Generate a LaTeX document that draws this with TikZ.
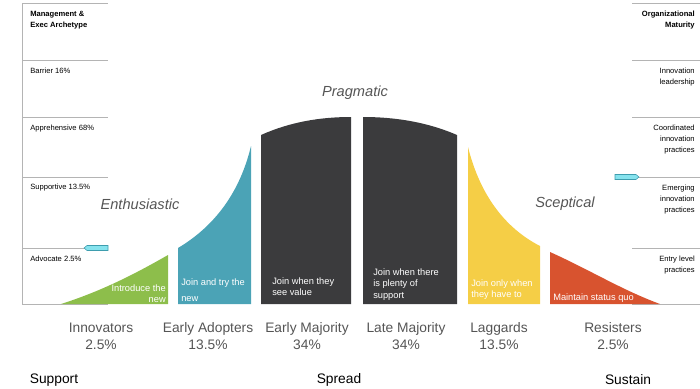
\documentclass[tikz,border=0pt]{standalone}
\usepackage{fontspec}
\setmainfont{Liberation Sans}

\definecolor{innogreen}{HTML}{8DBE4B}
\definecolor{adoptteal}{HTML}{4BA3B6}
\definecolor{majgray}{HTML}{3B3B3D}
\definecolor{laggyellow}{HTML}{F5CE46}
\definecolor{resistred}{HTML}{D8532F}
\definecolor{markcyan}{HTML}{86E3EE}
\definecolor{markedge}{HTML}{3E9DAE}
\definecolor{rulegray}{HTML}{B4B4B4}
\definecolor{labelgray}{HTML}{555555}

\begin{document}
\begin{tikzpicture}[x=0.025cm, y=-0.025cm,
    rule/.style={rulegray, line width=0.6pt},
    side/.style={inner sep=0pt, font=\fontsize{5.4}{7.8}\selectfont},
    inbox/.style={inner sep=0pt, white, align=left, font=\fontsize{6.6}{8.4}\selectfont},
    mood/.style={labelgray, font=\fontsize{10.4}{12}\selectfont\itshape},
    group/.style={labelgray, align=center, font=\fontsize{9.8}{12.2}\selectfont},
    phase/.style={font=\fontsize{9.8}{12}\selectfont},
    marker/.style={fill=markcyan, draw=markedge, line width=0.4pt}]
    \useasboundingbox (0, 0) rectangle (700, 389);

    % side panels
    \draw [rule] (22, 3) -- (22, 304);
    \foreach \y in {3, 60, 117, 177, 248, 304} {
        \draw [rule] (22, \y) -- (108, \y);
        \draw [rule] (632, \y) -- (700, \y);
        }

    \node [side, anchor=north west, align=left, font=\fontsize{5.4}{7.6}\selectfont\bfseries]
        (exec) at (30, 11) {Management \&\\Exec Archetype};
    \node [side, anchor=north west] (barrier)      at (30, 68)  {Barrier 16\%};
    \node [side, anchor=north west] (apprehensive) at (30, 125) {Apprehensive 68\%};
    \node [side, anchor=north west] (supportive)   at (30, 184) {Supportive 13.5\%};
    \node [side, anchor=north west] (advocate)     at (30, 256) {Advocate 2.5\%};

    \node [side, anchor=north east, align=right, font=\fontsize{5.4}{7.6}\selectfont\bfseries]
        (maturity) at (695, 11) {Organizational\\Maturity};
    \node [side, anchor=north east, align=right] (leadership)  at (695, 68)  {Innovation\\leadership};
    \node [side, anchor=north east, align=right] (coordinated) at (695, 125) {Coordinated\\innovation\\practices};
    \node [side, anchor=north east, align=right] (emerging)    at (695, 185) {Emerging\\innovation\\practices};
    \node [side, anchor=north east, align=right] (entry)       at (695, 256) {Entry level\\practices};

    \draw [marker] (108, 245.5) -- (87, 245.5) -- (84, 248) -- (87, 250.5) -- (108, 250.5) -- cycle;
    \draw [marker] (615, 174.5) -- (636, 174.5) -- (639, 177) -- (636, 179.5) -- (615, 179.5) -- cycle;

    % the curve, cut into groups
    \fill [innogreen] (61, 304) .. controls (105, 290) and (140, 271) .. (168, 255) -- (168, 304) -- cycle;
    \fill [adoptteal] (178, 304) -- (178, 248) .. controls (215, 226) and (240, 192) .. (251, 146) -- (251, 304) -- cycle;
    \fill [majgray] (261, 304) -- (261, 135) .. controls (290, 122) and (320, 117) .. (351, 117) -- (351, 304) -- cycle;
    \fill [majgray] (363, 304) -- (363, 117) .. controls (395, 117) and (427, 122) .. (457, 135) -- (457, 304) -- cycle;
    \fill [laggyellow] (468, 304) -- (468, 147) .. controls (480, 195) and (505, 228) .. (540, 246) -- (540, 304) -- cycle;
    \fill [resistred] (550, 304) -- (550, 252) .. controls (590, 270) and (622, 290) .. (660, 304) -- cycle;

    \node [inbox, anchor=north east, align=right] (introduce) at (166, 284) {Introduce the\\new};
    \node [inbox, anchor=north west] (tryit)   at (181, 278) {Join and try the\\[3pt]new};
    \node [inbox, anchor=north west] (seevalue) at (272, 277) {Join when they\\see value};
    \node [inbox, anchor=north west] (plenty)  at (373, 268) {Join when there\\is plenty of\\support};
    \node [inbox, anchor=north west] (haveto)  at (471, 279) {Join only when\\they have to};
    \node [inbox, anchor=north west] (statusquo) at (553, 293) {Maintain status quo};

    \node [mood] (pragmatic)    at (355, 93)  {Pragmatic};
    \node [mood] (enthusiastic) at (140, 204) {Enthusiastic};
    \node [mood] (sceptical)    at (565, 204) {Sceptical};

    % group names
    \node [group] (innovators)    at (101, 336) {Innovators\\2.5\%};
    \node [group] (earlyadopters) at (208, 336) {Early Adopters\\13.5\%};
    \node [group] (earlymajority) at (307, 336) {Early Majority\\34\%};
    \node [group] (latemajority)  at (406, 336) {Late Majority\\34\%};
    \node [group] (laggards)      at (499, 336) {Laggards\\13.5\%};
    \node [group] (resisters)     at (613, 336) {Resisters\\2.5\%};

    \node [phase] (support) at (54, 380)  {Support};
    \node [phase] (spread)  at (339, 380) {Spread};
    \node [phase] (sustain) at (628, 380) {Sustain};
\end{tikzpicture}
\end{document}
